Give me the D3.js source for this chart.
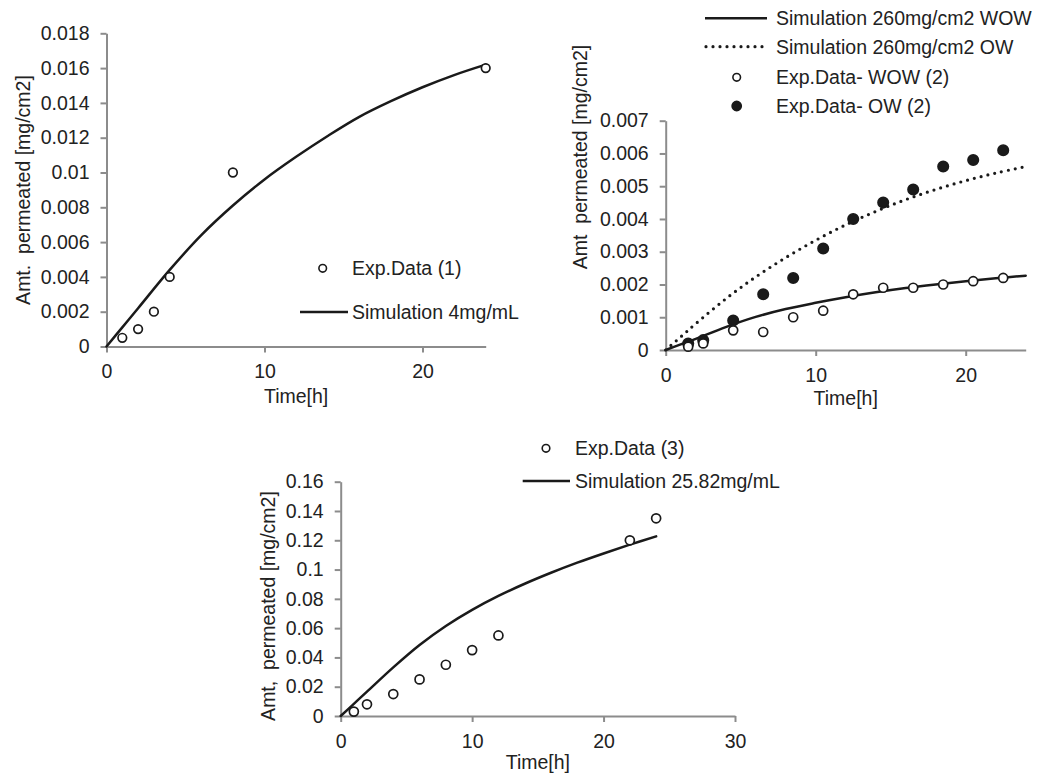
<!DOCTYPE html>
<html>
<head>
<meta charset="utf-8">
<script src="https://cdn.jsdelivr.net/npm/d3@7"></script>
<style>
  body { margin: 0; background: #fff; }
  svg { display: block; font-family: "Liberation Sans", Arial, sans-serif; }
  .axis .domain, .axis line { stroke: #8c8c8c; stroke-width: 2; }
  .axis text { font-size: 19.5px; fill: #222; font-family: "Liberation Sans", Arial, sans-serif; }
  .lbl { font-size: 19.5px; fill: #222; white-space: pre; }
</style>
</head>
<body>
<svg id="chart" width="1037" height="774"></svg>
<script>
// panel 1 - 4mg/mL
const p1ExpTime = [1, 2, 3, 4, 8, 24];
const p1ExpAmt = [0.0005, 0.001, 0.002, 0.004, 0.01, 0.016];
const p1SimTime = [0, 1, 2, 4, 6, 8, 10, 12, 14, 16, 18, 20, 22, 24];
const p1SimAmt = [0, 0.0011, 0.0022, 0.0044, 0.0064, 0.0081, 0.0096, 0.0109, 0.0121, 0.0132, 0.0141, 0.0149, 0.0156, 0.0162];
const p1XTicks = [0, 10, 20];
const p1YTicks = [0, 0.002, 0.004, 0.006, 0.008, 0.01, 0.012, 0.014, 0.016, 0.018];

// panel 2 - 260mg/cm2, WOW and OW
const p2ExpTime = [1.5, 2.5, 4.5, 6.5, 8.5, 10.5, 12.5, 14.5, 16.5, 18.5, 20.5, 22.5];
const p2ExpWOW = [0.0001, 0.0002, 0.0006, 0.00055, 0.001, 0.0012, 0.0017, 0.0019, 0.0019, 0.002, 0.0021, 0.0022];
const p2ExpOW = [0.0002, 0.0003, 0.0009, 0.0017, 0.0022, 0.0031, 0.004, 0.0045, 0.0049, 0.0056, 0.0058, 0.0061];
const p2SimTime = [0, 1, 2, 4, 6, 8, 10, 12, 14, 16, 18, 20, 22, 24];
const p2SimWOW = [0, 0.00017, 0.00034, 0.0007, 0.00101, 0.00125, 0.00144, 0.00161, 0.00176, 0.00189, 0.002, 0.0021, 0.00219, 0.00227];
const p2SimOW = [0, 0.0004, 0.0008, 0.00156, 0.00223, 0.00282, 0.00335, 0.00382, 0.00423, 0.00459, 0.0049, 0.00517, 0.0054, 0.0056];
const p2XTicks = [0, 10, 20];
const p2YTicks = [0, 0.001, 0.002, 0.003, 0.004, 0.005, 0.006, 0.007];

// panel 3 - 25.82mg/mL
const p3ExpTime = [1, 2, 4, 6, 8, 10, 12, 22, 24];
const p3ExpAmt = [0.003, 0.008, 0.015, 0.025, 0.035, 0.045, 0.055, 0.12, 0.135];
const p3SimTime = [0, 1, 2, 4, 6, 8, 10, 12, 14, 16, 18, 20, 22, 24];
const p3SimAmt = [0, 0.0083, 0.0166, 0.0332, 0.0485, 0.0615, 0.0725, 0.082, 0.0903, 0.0978, 0.1047, 0.111, 0.117, 0.1227];
const p3XTicks = [0, 10, 20, 30];
const p3YTicks = [0, 0.02, 0.04, 0.06, 0.08, 0.1, 0.12, 0.14, 0.16];

const svg = d3.select("#chart");
const ink = "#1a1a1a";
const fmt = v => String(+v.toFixed(4));

function drawAxes(x, y, xTicks, yTicks) {
    const y0 = y.range()[0];
    const x0 = x.range()[0];
    svg.append("g")
        .attr("class", "axis")
        .attr("transform", `translate(0,${y0})`)
        .call(d3.axisBottom(x).tickValues(xTicks).tickSize(6).tickSizeOuter(0).tickPadding(12).tickFormat(fmt));
    svg.append("g")
        .attr("class", "axis")
        .attr("transform", `translate(${x0},0)`)
        .call(d3.axisLeft(y).tickValues(yTicks).tickSize(6).tickSizeOuter(0).tickPadding(11).tickFormat(fmt));
}

function drawLine(x, y, xs, ys, dotted) {
    const line = d3.line().curve(d3.curveCatmullRom.alpha(0.5)).x(d => x(d[0])).y(d => y(d[1]));
    svg.append("path")
        .attr("fill", "none")
        .attr("stroke", ink)
        .attr("stroke-width", dotted ? 3.2 : 2.5)
        .attr("stroke-linecap", "round")
        .attr("stroke-dasharray", dotted ? "0 7" : null)
        .attr("d", line(xs.map((t, i) => [t, ys[i]])));
}

function drawPoints(x, y, xs, ys, filled, r) {
    svg.append("g")
        .selectAll("circle")
        .data(xs.map((t, i) => [t, ys[i]]))
        .join("circle")
        .attr("cx", d => x(d[0]))
        .attr("cy", d => y(d[1]))
        .attr("r", r)
        .attr("fill", filled ? ink : "#fff")
        .attr("stroke", ink)
        .attr("stroke-width", 1.7);
}

function label(txt, px, py, rotate, anchor) {
    svg.append("text")
        .attr("class", "lbl")
        .attr("text-anchor", anchor || "middle")
        .attr("dy", "0.35em")
        .attr("transform", `translate(${px},${py})` + (rotate ? " rotate(-90)" : ""))
        .text(txt);
}

function legendLine(x1, x2, yy, dotted, txt, tx) {
    svg.append("line")
        .attr("x1", x1).attr("x2", x2).attr("y1", yy).attr("y2", yy)
        .attr("stroke", ink)
        .attr("stroke-width", dotted ? 3.2 : 2.5)
        .attr("stroke-linecap", dotted ? "round" : "butt")
        .attr("stroke-dasharray", dotted ? "0 7" : null);
    label(txt, tx, yy, false, "start");
}

function legendDot(cx, cy, filled, r, txt, tx) {
    svg.append("circle")
        .attr("cx", cx).attr("cy", cy).attr("r", r)
        .attr("fill", filled ? ink : "#fff")
        .attr("stroke", ink)
        .attr("stroke-width", 1.6);
    label(txt, tx, cy, false, "start");
}

// ---- panel 1
{
    const x = d3.scaleLinear().domain([0, 24]).range([106.5, 485.7]);
    const y = d3.scaleLinear().domain([0, 0.018]).range([346.5, 33.3]);
    drawAxes(x, y, p1XTicks, p1YTicks);
    drawLine(x, y, p1SimTime, p1SimAmt, false);
    drawPoints(x, y, p1ExpTime, p1ExpAmt, false, 4.3);
    label("Time[h]", (x.range()[0] + x.range()[1]) / 2, 396);
    label("Amt.  permeated [mg/cm2]", 23, 190, true);
    legendDot(322.7, 268.3, false, 3.8, "Exp.Data (1)", 352);
    legendLine(300, 348, 312, false, "Simulation 4mg/mL", 352);
}

// ---- panel 2
{
    const x = d3.scaleLinear().domain([0, 24]).range([665.7, 1025.7]);
    const y = d3.scaleLinear().domain([0, 0.007]).range([350, 120.7]);
    drawAxes(x, y, p2XTicks, p2YTicks);
    drawLine(x, y, p2SimTime, p2SimOW, true);
    drawLine(x, y, p2SimTime, p2SimWOW, false);
    drawPoints(x, y, p2ExpTime, p2ExpOW, true, 5.2);
    drawPoints(x, y, p2ExpTime, p2ExpWOW, false, 4.5);
    label("Time[h]", (x.range()[0] + x.range()[1]) / 2, 398);
    label("Amt  permeated [mg/cm2]", 580, 157, true);
    legendLine(705, 767, 18.3, false, "Simulation 260mg/cm2 WOW", 776);
    legendLine(706, 767, 46.7, true, "Simulation 260mg/cm2 OW", 776);
    legendDot(736.7, 77.3, false, 3.8, "Exp.Data- WOW (2)", 776);
    legendDot(736.7, 106, true, 4.6, "Exp.Data- OW (2)", 776);
}

// ---- panel 3
{
    const x = d3.scaleLinear().domain([0, 30]).range([340.7, 735]);
    const y = d3.scaleLinear().domain([0, 0.16]).range([716, 481.7]);
    drawAxes(x, y, p3XTicks, p3YTicks);
    drawLine(x, y, p3SimTime, p3SimAmt, false);
    drawPoints(x, y, p3ExpTime, p3ExpAmt, false, 4.5);
    label("Time[h]", (x.range()[0] + x.range()[1]) / 2, 762);
    label("Amt,  permeated [mg/cm2]", 268, 606, true);
    legendDot(546, 448.3, false, 3.8, "Exp.Data (3)", 575);
    legendLine(522.7, 570, 481, false, "Simulation 25.82mg/mL", 575);
}
</script>
</body>
</html>
